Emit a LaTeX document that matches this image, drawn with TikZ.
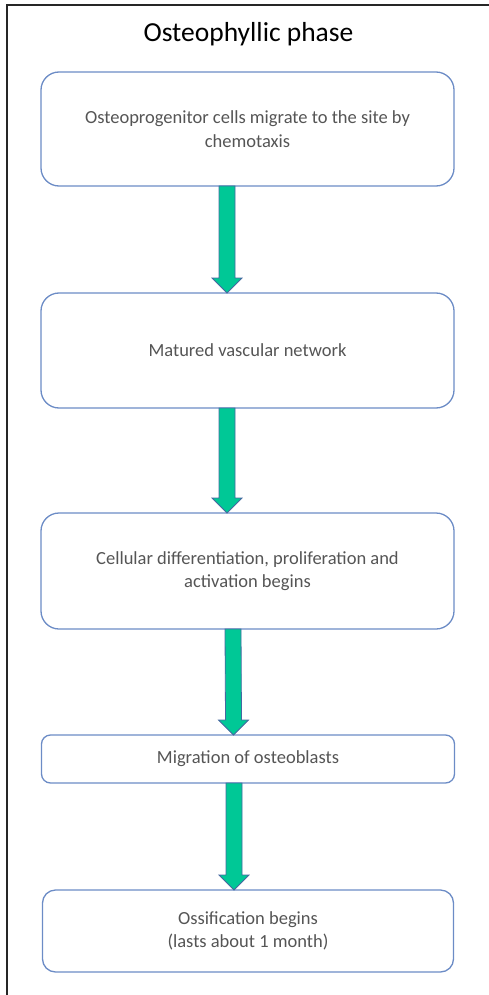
\documentclass[tikz,border=0pt]{standalone}
\usepackage{fontspec}
\setmainfont{Carlito}
\usetikzlibrary{calc, positioning}
\definecolor{boxblue}{RGB}{108,140,198}
\definecolor{arrowgreen}{RGB}{0,200,150}
\definecolor{arrowedge}{RGB}{70,104,160}
\definecolor{textgray}{RGB}{85,85,85}

% block arrow from the bottom of one box to the top of the next
\newcommand{\phasearrow}[3]{%
  \draw[arrowline] ($(#1)+(#3-8,0)$) -- ($(#2)+(#3-8,-15)$) -- ($(#2)+(#3-15,-15)$)
    -- ($(#2)+(#3,0)$) -- ($(#2)+(#3+15,-15)$) -- ($(#2)+(#3+8,-15)$) -- ($(#1)+(#3+8,0)$) -- cycle;}

\begin{document}
\begin{tikzpicture}[x=1pt, y=-1pt,
    stepbox/.style={draw=boxblue, line width=1.3pt, fill=white, minimum width=413pt,
      inner sep=0pt, outer sep=0pt, align=center, text=textgray,
      font=\fontsize{18.5}{23.5}\selectfont},
    arrowline/.style={fill=arrowgreen, draw=arrowedge, line width=0.8pt, line join=miter}]
    \useasboundingbox (0,0) rectangle (489,995);

    % frame and title
    \draw[line width=1.4pt, black!85] (7,995) -- (7,5) -- (489,5);
    \node[anchor=base, font=\fontsize{27.5}{33}\selectfont] (title) at (248.5,42) {Osteophyllic phase};

    % steps
    \node[stepbox, minimum height=114pt, rounded corners=18pt] (cells) at (247.5,129)
        {Osteoprogenitor cells migrate to the site by\\chemotaxis};
    \node[stepbox, minimum height=115pt, rounded corners=18pt] (vascular) at (247.5,350.5)
        {Matured vascular network};
    \node[stepbox, minimum height=116pt, rounded corners=18pt] (differ) at (247.5,571)
        {Cellular differentiation, proliferation and\\activation begins};
    \node[stepbox, minimum height=48pt, rounded corners=9pt] (osteob) at (248,759)
        {Migration of osteoblasts};
    \node[stepbox, minimum width=411pt, minimum height=82pt, rounded corners=13pt] (ossif) at (248,931)
        {Ossification begins\\(lasts about 1 month)};

    % arrows
    \phasearrow{cells.south}{vascular.north}{-20.5}
    \phasearrow{vascular.south}{differ.north}{-20.5}
    \phasearrow{differ.south}{osteob.north}{-14.5}
    \phasearrow{osteob.south}{ossif.north}{-14}
\end{tikzpicture}
\end{document}
